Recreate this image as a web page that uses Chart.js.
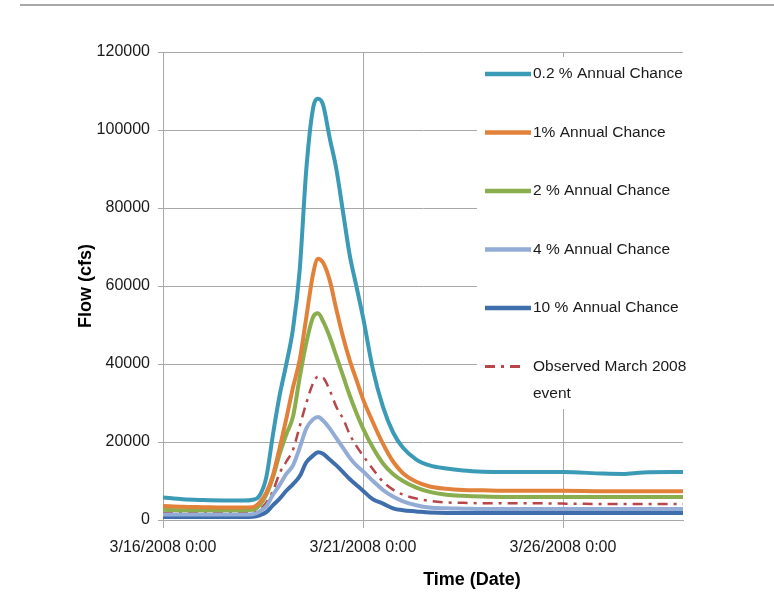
<!DOCTYPE html>
<html>
<head>
<meta charset="utf-8">
<script src="https://cdn.jsdelivr.net/npm/chart.js@4/dist/chart.umd.min.js"></script>
<style>
html, body { margin: 0; padding: 0; background: #fff; }
#wrap { width: 774px; height: 597px; position: relative; }
</style>
</head>
<body>
<div id="wrap"><canvas id="myChart" width="774" height="597"></canvas></div>
<script>
// hours after 3/16/2008 0:00
const hours = [0, 12, 24, 36, 48, 54, 58, 62, 66, 70, 74, 78, 82, 86, 90, 93, 96, 100, 104, 108,
  112, 116, 120, 126, 132, 138, 144, 152, 160, 170, 180, 192, 204, 216, 240, 264, 276, 288, 312]

const flow02 = [5800, 5300, 5100, 5000, 5000, 5200, 6300, 11000, 22000, 32000, 40000, 49000, 64000, 90000, 105500, 108000, 106500, 98000, 90000, 79000,
  68000, 60000, 52000, 38500, 29000, 22500, 18500, 15500, 14000, 13200, 12700, 12400, 12300, 12300, 12300, 11900, 11800, 12200, 12300]
const flow1 = [3600, 3400, 3300, 3200, 3200, 3300, 4500, 7000, 11500, 18500, 26000, 34000, 41000, 52000, 63000, 67000, 66000, 61500, 54000, 47000,
  41000, 36000, 31000, 25000, 19500, 15000, 12000, 9800, 8600, 8000, 7700, 7600, 7500, 7500, 7500, 7400, 7400, 7400, 7400]
const flow2 = [2600, 2500, 2500, 2500, 2500, 2600, 3800, 6500, 11000, 17000, 22000, 26500, 36500, 45500, 52000, 53000, 51000, 47000, 42000, 37000,
  32000, 27500, 23500, 18500, 14500, 11800, 10000, 8300, 7200, 6500, 6200, 6000, 5900, 5900, 5900, 5900, 5900, 5900, 5900]
const flow4 = [1400, 1400, 1400, 1400, 1400, 1500, 2200, 3500, 6500, 9000, 11800, 14000, 18500, 23500, 25800, 26400, 25500, 23500, 21000, 18500,
  16000, 14000, 12500, 10000, 7700, 6000, 4800, 3800, 3200, 3000, 2900, 2800, 2800, 2800, 2800, 2800, 2800, 2800, 2800]
const flow10 = [800, 800, 800, 800, 800, 850, 1200, 2000, 3800, 5500, 7500, 9200, 11200, 14800, 16500, 17400, 17000, 15500, 14000, 12300,
  10500, 9000, 7500, 5300, 4200, 3000, 2500, 2200, 1900, 1800, 1800, 1800, 1800, 1800, 1800, 1800, 1800, 1800, 1800]
const observed = [1800, 1800, 1800, 1800, 1800, 1900, 2700, 4500, 7500, 12000, 15000, 18000, 24000, 30000, 35000, 36800, 36500, 33300, 29000, 26000,
  22000, 19000, 16500, 13000, 9800, 7800, 6500, 5500, 4900, 4500, 4400, 4300, 4300, 4300, 4200, 4100, 4100, 4100, 4100]

const names = ["0.2 % Annual Chance", "1% Annual Chance", "2 % Annual Chance", "4 % Annual Chance", "10 % Annual Chance", "Observed March 2008 event"]
const tickHours = [0, 120, 240]
const tickLabels = ["3/16/2008 0:00", "3/21/2008 0:00", "3/26/2008 0:00"]

const FONT = '"Liberation Sans", Arial, sans-serif'
const GRID = '#a8a8a8'

function pts(vals) {
    return hours.map((h, i) => ({x: h, y: vals[i]}))
}

function line(label, vals, color, width, dash) {
    return {
        label: label,
        data: pts(vals),
        borderColor: color,
        borderWidth: width,
        borderDash: dash || [],
        pointRadius: 0,
        fill: false,
        cubicInterpolationMode: 'monotone'
    }
}

// title under the x axis, top rule and the boxed legend
const extras = {
    id: 'extras',
    beforeDraw(chart) {
        const ctx = chart.ctx
        ctx.save()
        ctx.strokeStyle = '#a8a8a8'
        ctx.lineWidth = 2
        ctx.beginPath()
        ctx.moveTo(20, 5)
        ctx.lineTo(774, 5)
        ctx.stroke()
        ctx.restore()
    },
    afterDraw(chart) {
        const ctx = chart.ctx
        ctx.save()
        ctx.fillStyle = '#000'
        ctx.font = 'bold 18px ' + FONT
        ctx.textAlign = 'center'
        ctx.textBaseline = 'middle'
        ctx.fillText('Time (Date)', 472, 580)

        ctx.fillStyle = '#fff'
        ctx.fillRect(477, 57, 297, 352)
        ctx.font = '15.5px ' + FONT
        ctx.textAlign = 'left'
        chart.data.datasets.forEach((ds, i) => {
            const y = 74 + i * 58.5
            ctx.strokeStyle = ds.borderColor
            ctx.lineWidth = ds.borderWidth + 0.5
            ctx.setLineDash(ds.borderDash)
            ctx.beginPath()
            ctx.moveTo(485, y)
            ctx.lineTo(ds.borderDash.length ? 524 : 531, y)
            ctx.stroke()
            // wrap the label at word boundaries
            const words = ds.label.split(' ')
            let row = '', rows = []
            words.forEach(w => {
                const t = row ? row + ' ' + w : w
                if (ctx.measureText(t).width > 162 && row) { rows.push(row); row = w } else row = t
            })
            rows.push(row)
            ctx.fillStyle = '#1a1a1a'
            rows.forEach((r, k) => ctx.fillText(r, 533, y + k * 27))
        })
        ctx.restore()
    }
}

new Chart("myChart", {
    type: "line",
    data: {
        datasets: [
            line(names[0], flow02, '#3b9ab6', 4),
            line(names[1], flow1, '#e2813a', 4),
            line(names[2], flow2, '#8aad4e', 4),
            line(names[3], flow4, '#93acd5', 4),
            line(names[4], flow10, '#3f6eac', 4),
            line(names[5], observed, '#b8474a', 2.5, [10, 6, 3, 6])
        ]
    },
    options: {
        responsive: false,
        animation: false,
        devicePixelRatio: 1,
        layout: {padding: {top: 52, right: 91, left: 0, bottom: 0}},
        plugins: {legend: {display: false}, tooltip: {enabled: false}},
        scales: {
            x: {
                type: 'linear',
                min: 0,
                max: 312,
                afterBuildTicks: s => { s.ticks = tickHours.map(v => ({value: v})) },
                afterFit: s => { s.height = 77 },
                ticks: {
                    callback: (v, i) => tickLabels[i],
                    autoSkip: false,
                    maxRotation: 0,
                    padding: 10,
                    color: '#1a1a1a',
                    font: {family: FONT, size: 16}
                },
                grid: {color: GRID, tickLength: 8},
                border: {color: GRID}
            },
            y: {
                min: 0,
                max: 120000,
                afterFit: s => { s.width = 163 },
                ticks: {
                    stepSize: 20000,
                    padding: 8,
                    color: '#1a1a1a',
                    callback: v => String(v),
                    font: {family: FONT, size: 16}
                },
                grid: {color: GRID, tickLength: 5},
                border: {color: GRID},
                title: {
                    display: true,
                    text: 'Flow (cfs)',
                    color: '#000',
                    font: {family: FONT, size: 18, weight: 'bold'},
                    padding: {top: 75, bottom: 0}
                }
            }
        }
    },
    plugins: [extras]
});
</script>
</body>
</html>
